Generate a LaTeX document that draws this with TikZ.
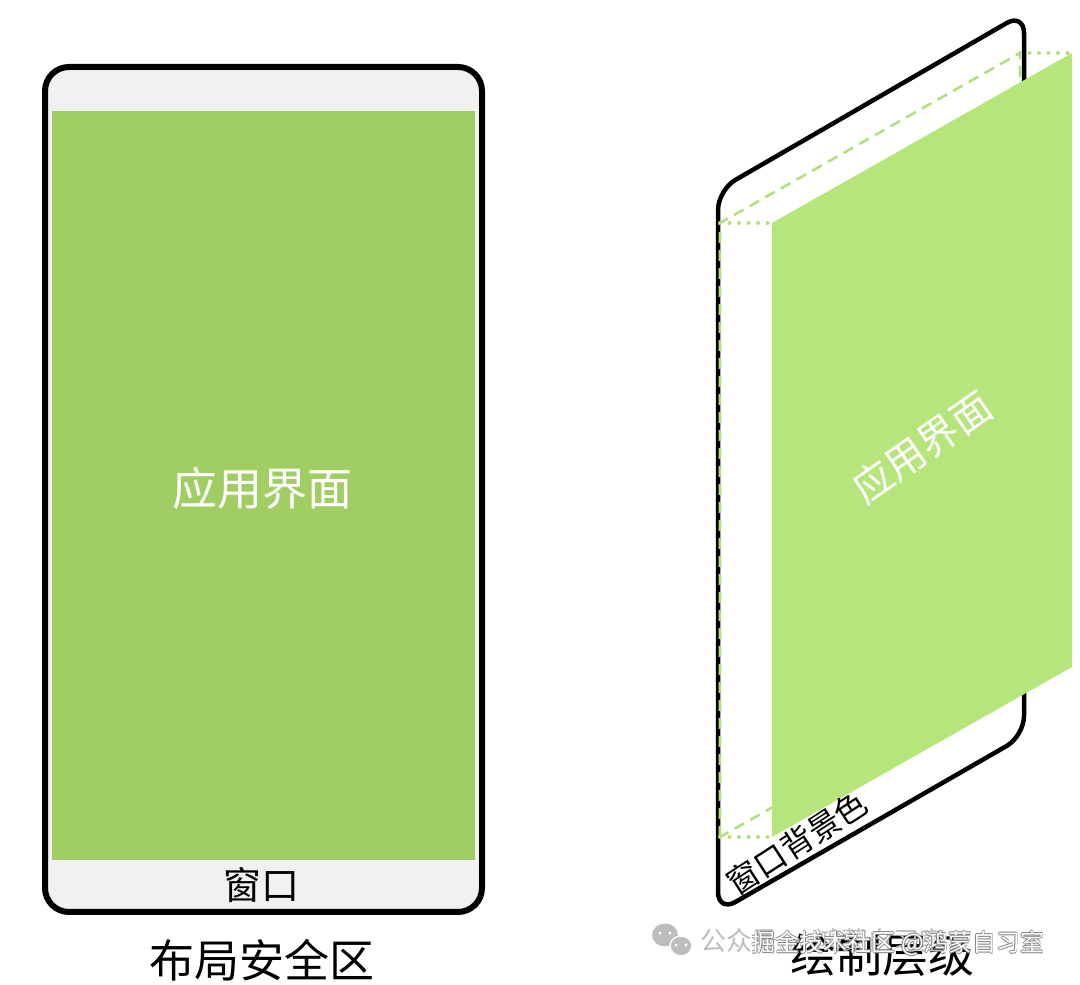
\documentclass[tikz,border=0pt]{standalone}
\usepackage{fontspec}
\setmainfont{Noto Sans CJK SC}
\definecolor{leftgreen}{HTML}{A0CE63}
\definecolor{rightgreen}{HTML}{B6E67B}
\definecolor{dashgreen}{HTML}{B3DF7E}
\definecolor{bggrey}{HTML}{F1F1F1}
\definecolor{wmgrey}{HTML}{BDBDBD}
\tikzset{
  frame/.style={draw=black, line join=round},
  dashedge/.style={draw=dashgreen, line width=2.6pt, dash pattern=on 11pt off 7pt},
  dotedge/.style={draw=dashgreen, line width=4pt, line cap=round, dash pattern=on 0pt off 9.5pt},
  label/.style={inner sep=0pt, text=black},
}
\begin{document}
\begin{tikzpicture}[x=1pt,y=1pt]
\useasboundingbox (0,0) rectangle (1080,985);
% ---------- left phone ----------
\draw[frame, line width=6pt, rounded corners=24pt, fill=bggrey] (45,73) rectangle (482,918);
\fill[leftgreen] (52,125) rectangle (475,874);
\node[label, text=white, font=\fontsize{45}{45}\selectfont] (appL) at (262,497) {应用界面};
\node[label, font=\fontsize{38}{38}\selectfont] (winL) at (261,100) {窗口};
\node[label, font=\fontsize{45}{45}\selectfont] (capL) at (262,25) {布局安全区};
% ---------- right skewed window ----------
\coordinate (wBL) at (718,73);
\coordinate (wTL) at (718,795);
\coordinate (wTR) at (1024,972);
\coordinate (wBR) at (1024,249);
\draw[frame, line width=4.5pt, rounded corners=20pt] (718,400) -- (wTL) -- (wTR) -- (wBR) -- (wBL) -- cycle;
% dashed background outline
\coordinate (dTL) at (720,762);
\coordinate (dTR) at (1020,932);
\coordinate (dBR) at (1020,318);
\coordinate (dBL) at (720,148);
\draw[dashedge] (dBL) -- (dTL) -- (dTR) -- (dBR) -- cycle;
% app panel
\coordinate (gTL) at (772,762);
\coordinate (gTR) at (1072,932);
\coordinate (gBR) at (1072,318);
\coordinate (gBL) at (772,148);
\draw[dotedge] (dTL) -- (gTL);
\draw[dotedge] (dTR) -- (gTR);
\draw[dotedge] (dBL) -- (gBL);
\fill[rightgreen] (gBL) -- (gTL) -- (gTR) -- (gBR) -- cycle;
\node[label, text=white, rotate=35, font=\fontsize{40}{40}\selectfont] (appR) at (922,538) {应用界面};
\node[label, rotate=33, font=\fontsize{32}{32}\selectfont] (bgR) at (797,142) {窗口背景色};
\node[label, font=\fontsize{46}{46}\selectfont] (capR) at (882,30) {绘制层级};
% ---------- watermark ----------
\fill[wmgrey] (665,50) ellipse (13 and 11.5);
\fill[wmgrey, draw=white, line width=1.5pt] (681,39) ellipse (11 and 10);
\foreach \ex/\ey in {660/52,670/52,676/40,686/40}{
  \fill[white] (\ex,\ey) circle (1.6);
}
\node[label, text=wmgrey, font=\fontsize{26}{26}\selectfont, anchor=west] (wm1) at (700,44) {公众号 · 鸿蒙自习室};
\foreach \dx/\dy in {-0.9/0,0.9/0,0/-0.9,0/0.9}{
  \node[label, text=gray, font=\fontsize{24}{24}\selectfont] at (898+\dx,42+\dy) {掘金技术社区 @鸿蒙自习室};
}
\node[label, text=white, font=\fontsize{24}{24}\selectfont] (wm2) at (898,42) {掘金技术社区 @鸿蒙自习室};
\end{tikzpicture}
\end{document}
